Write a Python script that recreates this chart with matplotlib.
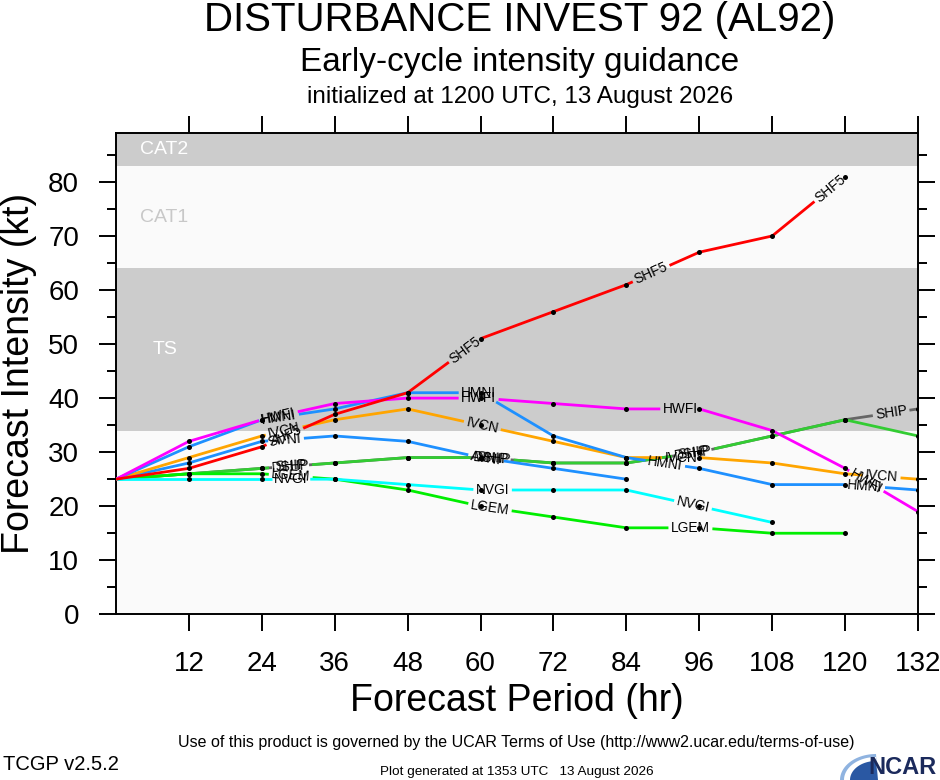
import numpy as np
import matplotlib
matplotlib.use('Agg')
import matplotlib.pyplot as plt
from matplotlib.patches import Polygon

plt.rcParams['font.family'] = ['Liberation Sans', 'DejaVu Sans']

# forecast hours and intensity guidance (kt)
hours = [0, 12, 24, 36, 48, 60, 72, 84, 96, 108, 120, 132]

ship = [25, 26, 27, 28, 29, 29, 28, 28, 30, 33, 36, 38]
dshp = [25, 26, 27, 28, 29, 29, 28, 28, 30, 33, 36, 33]
lgem = [25, 26, 26, 25, 23, 20, 18, 16, 16, 15, 15]
nvgi = [25, 25, 25, 25, 24, 23, 23, 23, 20, 17]
avni = [25, 28, 32, 33, 32, 29, 27, 25]
ivcn = [25, 29, 33, 36, 38, 35, 32, 29, 29, 28, 26, 25]
hmni = [25, 31, 36, 38, 41, 41, 33, 29, 27, 24, 24, 23]
hwfi = [25, 32, 36, 39, 40, 40, 39, 38, 38, 34, 27, 19]
shf5 = [25, 27, 31, 37, 41, 51, 56, 61, 67, 70, 81]

# drawing order, colours, max number of along-line labels
models = [
    ('SHIP', ship, '#666666', 4),
    ('DSHP', dshp, '#33cc33', 3),
    ('LGEM', lgem, '#00ee00', 4),
    ('NVGI', nvgi, '#00ffff', 4),
    ('AVNI', avni, '#1e90ff', 4),
    ('IVCN', ivcn, '#ffa500', 4),
    ('HMNI', hmni, '#1e90ff', 4),
    ('HWFI', hwfi, '#ff00ff', 4),
    ('SHF5', shf5, '#ff0000', 4),
]

# intensity bands (kt)
band_names = ['TS', 'CAT1', 'CAT2']
band_lo = [34, 64, 83]
band_hi = [64, 83, 96]
band_fill = ['#cccccc', '#fafafa', '#cccccc']
band_text = ['white', '#c8c8c8', 'white']

YMAX = 89
LAB_START = 175.0   # px along line to first label centre
LAB_STEP = 202.0    # px between labels
LAB_PAD = 2.5
LAB_SIZE = 9.9


def draw_model(ax, renderer, name, vals, color, nlab):
    x = np.array(hours[:len(vals)], float)
    y = np.array(vals, float)
    pix = ax.transData.transform(np.column_stack([x, y]))
    seg = np.hypot(*np.diff(pix, axis=0).T)
    cum = np.concatenate([[0.0], np.cumsum(seg)])

    t = ax.text(0, 0, name, fontsize=LAB_SIZE)
    w = t.get_window_extent(renderer).width
    t.remove()

    centers = [c for c in LAB_START + LAB_STEP * np.arange(nlab)
               if c + 10 <= cum[-1]]

    # line pieces with gaps where the labels sit
    pieces = []
    start = 0.0
    for c in centers:
        pieces.append((start, c - w / 2 - LAB_PAD))
        start = c + w / 2 + LAB_PAD
    pieces.append((start, cum[-1]))
    for a, b in pieces:
        if b <= a:
            continue
        s = np.concatenate([[a], cum[(cum > a) & (cum < b)], [b]])
        ax.plot(np.interp(s, cum, x), np.interp(s, cum, y), color=color,
                lw=2.0, solid_capstyle='butt', solid_joinstyle='round', zorder=3)

    ax.plot(x[1:], y[1:], 'o', color='black', ms=3.6, mew=0, zorder=4)

    for c in centers:
        cx, cy = np.interp(c, cum, x), np.interp(c, cum, y)
        i = min(max(np.searchsorted(cum, c) - 1, 0), len(seg) - 1)
        dx, dy = pix[i + 1] - pix[i]
        ang = np.degrees(np.arctan2(dy, dx))
        ax.text(cx, cy, name, rotation=ang, rotation_mode='anchor',
                ha='center', va='center', fontsize=LAB_SIZE, zorder=5)


def main():
    W, H = 940, 780
    fig = plt.figure(figsize=(W / 100, H / 100), dpi=100)
    fig.patch.set_facecolor('white')
    x0, x1, ytop, ybot = 116, 918, 133.3, 614.3
    ax = fig.add_axes([x0 / W, 1 - ybot / H, (x1 - x0) / W, (ybot - ytop) / H])
    ax.set_xlim(0, 132)
    ax.set_ylim(0, YMAX)
    ax.set_facecolor('#fafafa')

    for nm, lo, hi, fc, tc in zip(band_names, band_lo, band_hi, band_fill, band_text):
        ax.axhspan(lo, hi, color=fc, lw=0, zorder=1)
        ax.text(8, (lo + min(hi, YMAX)) / 2, nm, color=tc, fontsize=14,
                ha='center', va='center', zorder=2)

    ax.set_xticks(hours[1:])
    ax.set_yticks(np.arange(0, 81, 10))
    ax.set_yticks(np.arange(5, YMAX, 10), minor=True)
    ax.tick_params(which='both', direction='out', top=True, right=True,
                   labeltop=False, labelright=False, width=1.4)
    ax.tick_params(which='major', length=12.5, labelsize=20, pad=14)
    ax.tick_params(which='minor', length=6.5)
    for sp in ax.spines.values():
        sp.set_linewidth(1.4)

    fig.canvas.draw()
    renderer = fig.canvas.get_renderer()
    for name, vals, color, nlab in models:
        draw_model(ax, renderer, name, vals, color, nlab)

    ax.set_xlabel('Forecast Period (hr)', fontsize=27, labelpad=4)
    ax.set_ylabel('Forecast Intensity (kt)', fontsize=27, labelpad=8)

    cx = 520 / W
    fig.text(cx, 1 - 20 / H, 'DISTURBANCE INVEST 92 (AL92)', fontsize=29,
             ha='center', va='center')
    fig.text(cx, 1 - 62 / H, 'Early-cycle intensity guidance', fontsize=24,
             ha='center', va='center')
    fig.text(cx, 1 - 97 / H, 'initialized at 1200 UTC, 13 August 2026', fontsize=17.5,
             ha='center', va='center')
    fig.text(516 / W, 1 - 743 / H,
             'Use of this product is governed by the UCAR Terms of Use '
             '(http://www2.ucar.edu/terms-of-use)', fontsize=11.5,
             ha='center', va='center')
    fig.text(517 / W, 1 - 772 / H, 'Plot generated at 1353 UTC   13 August 2026',
             fontsize=9.7, ha='center', va='center')
    fig.text(3 / W, 1 - 764 / H, 'TCGP v2.5.2', fontsize=14.5, ha='left', va='center')

    # NCAR logo
    th = np.linspace(0, np.pi / 2, 30)
    outer = [((840 + 36 * (1 - np.cos(a))) / W, 1 - (780 - 26 * np.sin(a)) / H) for a in th]
    mid = [((844 + 32 * (1 - np.cos(a))) / W, 1 - (780 - 23 * np.sin(a)) / H) for a in th]
    inner = [((850 + 26 * (1 - np.cos(a))) / W, 1 - (780 - 19 * np.sin(a)) / H) for a in th]
    for pts, fc in ((outer, '#8fb3e0'), (mid, 'white'), (inner, '#2a58a3')):
        fig.patches.append(Polygon(pts + [(878 / W, 0)], closed=True,
                                   transform=fig.transFigure, facecolor=fc, edgecolor='none'))
    fig.text(868 / W, 1 - 768 / H, 'NCAR', fontsize=17, fontweight='bold',
             color='#1b2a5c', ha='left', va='center')

    fig.savefig('out.png', dpi=100)


if __name__ == '__main__':
    main()
